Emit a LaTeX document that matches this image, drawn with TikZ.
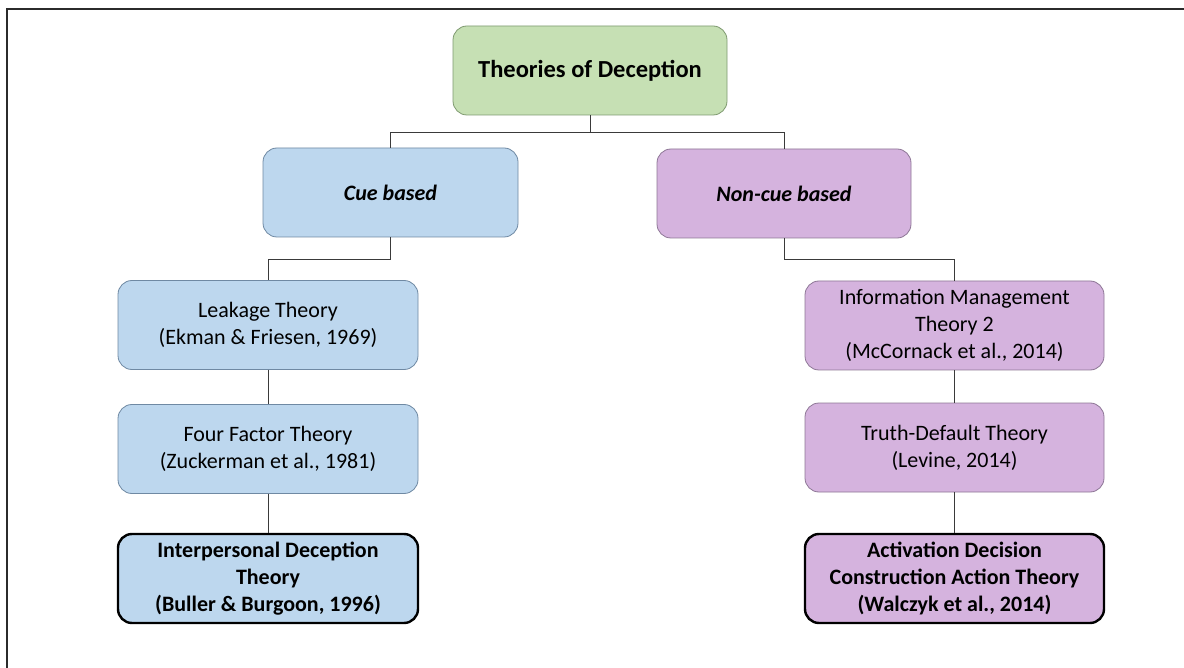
\documentclass[tikz,border=0pt]{standalone}
\usepackage{fontspec}
\setmainfont{Carlito}
\begin{document}
\begin{tikzpicture}[x=1pt,y=-1pt,
  box/.style={rounded corners=14pt, line width=0.8pt,
    align=center, inner sep=4pt, font=\fontsize{22}{27}\selectfont,
    minimum width=300pt, minimum height=89pt},
  rootbox/.style={box, fill=rootgreen, draw=rootedge,
    minimum width=274pt, font=\fontsize{24.5}{28}\selectfont\bfseries},
  cuebox/.style={box, fill=cueblue, draw=cueedge},
  noncuebox/.style={box, fill=noncuepurple, draw=noncueedge},
  keybox/.style={draw=black, line width=2.4pt, font=\fontsize{22}{27}\selectfont\bfseries},
  branch/.style={minimum width=255pt, font=\fontsize{22}{27}\selectfont\bfseries\itshape},
  link/.style={draw=linkgray, line width=0.9pt},
  frame/.style={draw=framegray, line width=1.6pt}
]
\definecolor{rootgreen}{HTML}{C6E0B4}
\definecolor{rootedge}{HTML}{7F9A70}
\definecolor{cueblue}{HTML}{BDD7EE}
\definecolor{cueedge}{HTML}{6F89A3}
\definecolor{noncuepurple}{HTML}{D5B3DE}
\definecolor{noncueedge}{HTML}{8E7796}
\definecolor{linkgray}{HTML}{3A3A3A}
\definecolor{framegray}{HTML}{2B2B2B}

% page area and the open frame along the top and left edges
\useasboundingbox (0,0) rectangle (1184,668);
\fill[white] (0,0) rectangle (1184,668);
\coordinate (frametop) at (1184,9);
\coordinate (framecorner) at (7,9);
\coordinate (framebottom) at (7,668);
\draw[frame] (frametop) -- (framecorner) -- (framebottom);

% root
\node[rootbox] (root) at (590,70.5) {Theories of Deception};

% the two families
\node[cuebox, branch] (cue) at (390.5,192.5) {Cue based};
\node[noncuebox, branch, minimum width=254pt] (noncue) at (784,193.5) {Non-cue based};

% cue-based theories
\node[cuebox] (leak) at (268,325) {Leakage Theory\\(Ekman \& Friesen, 1969)};
\node[cuebox] (four) at (268,449) {Four Factor Theory\\(Zuckerman et al., 1981)};
\node[cuebox, keybox] (idt) at (268,578.5) {Interpersonal Deception\\Theory\\(Buller \& Burgoon, 1996)};

% non-cue-based theories
\node[noncuebox, minimum width=299pt] (imt) at (954.5,325.5) {Information Management\\Theory 2\\(McCornack et al., 2014)};
\node[noncuebox, minimum width=299pt] (tdt) at (954.5,447.5) {Truth-Default Theory\\(Levine, 2014)};
\node[noncuebox, keybox, minimum width=299pt] (adcat) at (954.5,578.5) {Activation Decision\\Construction Action Theory\\(Walczyk et al., 2014)};

% connectors
\draw[link] (root.south) -- ++(0,17) coordinate (rootjoin);
\draw[link] (rootjoin) -| (cue.north);
\draw[link] (rootjoin) -| (noncue.north);
\draw[link] (cue.south) -- ++(0,22) -| (leak.north);
\draw[link] (noncue.south) -- ++(0,21) -| (imt.north);
\draw[link] (leak) -- (four);
\draw[link] (four) -- (idt);
\draw[link] (imt) -- (tdt);
\draw[link] (tdt) -- (adcat);
\end{tikzpicture}
\end{document}
